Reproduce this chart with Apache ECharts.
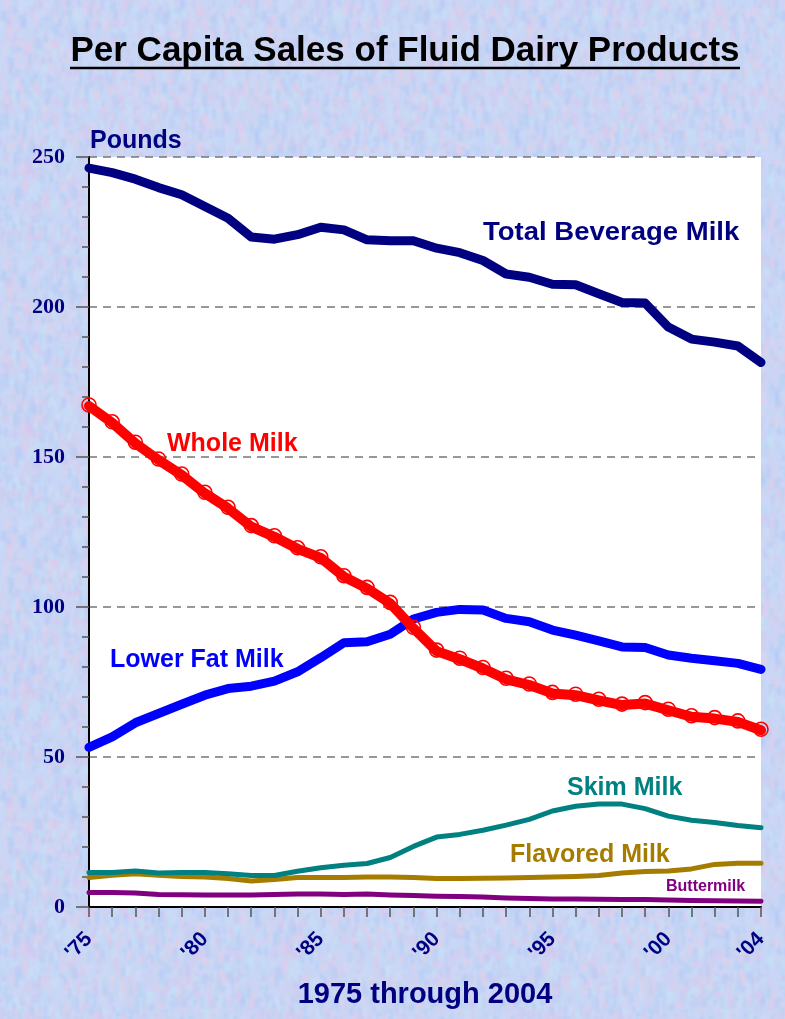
<!DOCTYPE html>
<html>
<head>
<meta charset="utf-8">
<title>Per Capita Sales of Fluid Dairy Products</title>
<script src="https://cdn.jsdelivr.net/npm/echarts@6/dist/echarts.min.js"></script>
<style>
  html, body {
    margin: 0;
    padding: 0;
    width: 785px;
    height: 1019px;
    overflow: hidden;
    background: #c9d5f4;
  }
  #paper {
    position: absolute;
    left: -6px;
    top: -6px;
    width: 797px;
    height: 1031px;
    filter: blur(1px);
  }
  #chart {
    position: absolute;
    left: 0;
    top: 0;
    width: 785px;
    height: 1019px;
  }
</style>
</head>
<body>
<div id="paper"></div>
<div id="chart"></div>
<script>
// years on the x axis, and the ones that carry a label
const years = ['1975', '1976', '1977', '1978', '1979', '1980', '1981', '1982', '1983', '1984',
  '1985', '1986', '1987', '1988', '1989', '1990', '1991', '1992', '1993', '1994',
  '1995', '1996', '1997', '1998', '1999', '2000', '2001', '2002', '2003', '2004']
const labeledYears = ['1975', '1980', '1985', '1990', '1995', '2000', '2004']

// pounds per capita
const totalBeverage = [246.3, 244.8, 242.6, 239.8, 237.4, 233.5, 229.6, 223.3, 222.6, 224.1,
  226.6, 225.7, 222.4, 222.1, 222.1, 219.6, 218.1, 215.5, 211.0, 209.9,
  207.6, 207.4, 204.4, 201.5, 201.3, 193.3, 189.3, 188.3, 187.0, 181.5]
const wholeMilk = [167.0, 161.4, 154.6, 149.0, 144.0, 137.9, 132.9, 126.8, 123.4, 119.4,
  116.4, 110.1, 106.2, 101.2, 92.9, 85.3, 82.6, 79.5, 75.9, 74.0,
  71.2, 70.6, 68.9, 67.3, 67.8, 65.6, 63.4, 62.8, 61.7, 58.9]
const lowerFat = [53.2, 56.7, 61.4, 64.5, 67.6, 70.6, 72.8, 73.6, 75.3, 78.4,
  83.1, 88.1, 88.4, 90.9, 96.0, 98.2, 99.2, 99.0, 96.2, 95.1,
  92.3, 90.6, 88.7, 86.7, 86.5, 84.0, 82.9, 82.1, 81.2, 79.2]
const skimMilk = [11.5, 11.5, 12.0, 11.3, 11.5, 11.5, 11.1, 10.5, 10.5, 11.9,
  13.1, 13.9, 14.5, 16.5, 20.2, 23.3, 24.2, 25.6, 27.3, 29.2,
  32.0, 33.6, 34.3, 34.3, 32.8, 30.3, 28.9, 28.2, 27.2, 26.4]
const flavoredMilk = [9.8, 10.6, 11.1, 10.6, 10.2, 10.0, 9.5, 8.7, 9.2, 9.8,
  9.8, 9.8, 10.0, 10.0, 9.8, 9.5, 9.5, 9.6, 9.7, 9.8,
  10.0, 10.2, 10.5, 11.3, 11.8, 12.0, 12.7, 14.2, 14.6, 14.6]
const buttermilk = [4.8, 4.8, 4.7, 4.2, 4.1, 4.0, 4.0, 4.0, 4.2, 4.3,
  4.3, 4.2, 4.3, 4.0, 3.8, 3.6, 3.5, 3.3, 3.0, 2.8,
  2.7, 2.7, 2.6, 2.5, 2.5, 2.3, 2.2, 2.1, 2.0, 1.9]

const NAVY = '#000080'
const SANS = '"Liberation Sans", Arial, sans-serif'

// mottled paper behind the chart, decoration only
function paperTexture() {
  const c = document.createElement('canvas')
  c.width = 260
  c.height = 260
  const g = c.getContext('2d')
  g.fillStyle = '#c9d5f4'
  g.fillRect(0, 0, 260, 260)
  const palette = ['#b4cbf6', '#dac8ec', '#c2dbf8', '#e4cde8', '#bad0f2', '#d0d9f7', '#c6e2f6']
  let s = 12345
  const next = () => (s = (s * 16807) % 2147483647) / 2147483647
  g.globalAlpha = 0.55
  for (let i = 0; i < 3200; i++) {
    g.fillStyle = palette[Math.floor(next() * palette.length)]
    g.fillRect(next() * 260, next() * 260, 2 + next() * 4, 4 + next() * 9)
  }
  return c.toDataURL()
}
document.getElementById('paper').style.backgroundImage = 'url(' + paperTexture() + ')'

function lineSeries(name, data, color, width, z) {
  return {
    name: name,
    type: 'line',
    data: data,
    z: z,
    showSymbol: false,
    symbol: 'none',
    lineStyle: { color: color, width: width, cap: 'round', join: 'round' }
  }
}

function label(text, x, y, color, size, sx) {
  return {
    type: 'text',
    x: x,
    y: y,
    scaleX: sx || 1,
    z: 50,
    style: {
      text: text,
      fill: color,
      font: 'bold ' + size + 'px ' + SANS,
      verticalAlign: 'middle'
    }
  }
}

const chart = echarts.init(document.getElementById('chart'), null, { renderer: 'canvas' })

// whole milk carries small open loops at every point
const wholeSeries = lineSeries('Whole Milk', wholeMilk, '#ff0000', 10, 6)
wholeSeries.showSymbol = true
wholeSeries.symbol = 'circle'
wholeSeries.symbolSize = 14
wholeSeries.symbolOffset = [0, -1]
wholeSeries.itemStyle = { color: 'rgba(255,255,255,0)', borderColor: '#ff0000', borderWidth: 1.6 }

const option = {
  animation: false,
  backgroundColor: 'transparent',
  grid: {
    left: 89,
    right: 24,
    top: 157,
    bottom: 112,
    show: true,
    backgroundColor: '#ffffff',
    borderWidth: 0
  },
  xAxis: {
    type: 'category',
    data: years,
    boundaryGap: false,
    axisLine: { lineStyle: { color: '#000', width: 2 } },
    axisTick: { show: true, interval: 0, length: 10, lineStyle: { color: '#555', width: 1.5 } },
    axisLabel: {
      interval: (i, v) => labeledYears.includes(v),
      formatter: v => "'" + v.slice(2),
      rotate: 45,
      margin: 29,
      color: NAVY,
      fontFamily: SANS,
      fontWeight: 'bold',
      fontSize: 21
    },
    splitLine: { show: false }
  },
  yAxis: {
    type: 'value',
    min: 0,
    max: 250,
    interval: 50,
    axisLine: { show: true, lineStyle: { color: '#000', width: 2 } },
    axisTick: { show: true, length: 13, lineStyle: { color: '#555', width: 1.5 } },
    minorTick: { show: true, splitNumber: 5, length: 7, lineStyle: { color: '#555', width: 1.5 } },
    axisLabel: {
      margin: 24,
      color: NAVY,
      fontFamily: '"Liberation Serif", "Times New Roman", serif',
      fontWeight: 'bold',
      fontSize: 22
    },
    splitLine: { show: true, lineStyle: { color: '#777', width: 1.5, type: [8, 6] } }
  },
  series: [
    lineSeries('Buttermilk', buttermilk, '#800080', 5, 2),
    lineSeries('Flavored Milk', flavoredMilk, '#a67c00', 5, 3),
    lineSeries('Skim Milk', skimMilk, '#008080', 5, 4),
    lineSeries('Lower Fat Milk', lowerFat, '#0000ff', 9, 5),
    wholeSeries,
    lineSeries('Total Beverage Milk', totalBeverage, NAVY, 9, 7)
  ],
  graphic: [
    {
      type: 'text',
      x: 405,
      y: 51,
      style: {
        text: 'Per Capita Sales of Fluid Dairy Products',
        fill: '#000',
        font: 'bold 35px ' + SANS,
        align: 'center',
        verticalAlign: 'middle'
      }
    },
    {
      type: 'line',
      shape: { x1: 70, y1: 68, x2: 740, y2: 68 },
      style: { stroke: '#000', lineWidth: 2.5 }
    },
    label('Pounds', 90, 141, NAVY, 25),
    label('Total Beverage Milk', 483, 233, NAVY, 25, 1.1),
    label('Whole Milk', 167, 444, '#ff0000', 25),
    label('Lower Fat Milk', 110, 660, '#0000ff', 25),
    label('Skim Milk', 567, 788, '#008080', 25),
    label('Flavored Milk', 510, 855, '#a67c00', 25),
    label('Buttermilk', 666, 887, '#800080', 16),
    {
      type: 'text',
      x: 425,
      y: 995,
      style: {
        text: '1975 through 2004',
        fill: NAVY,
        font: 'bold 29px ' + SANS,
        align: 'center',
        verticalAlign: 'middle'
      }
    }
  ]
}

chart.setOption(option)
</script>
</body>
</html>
